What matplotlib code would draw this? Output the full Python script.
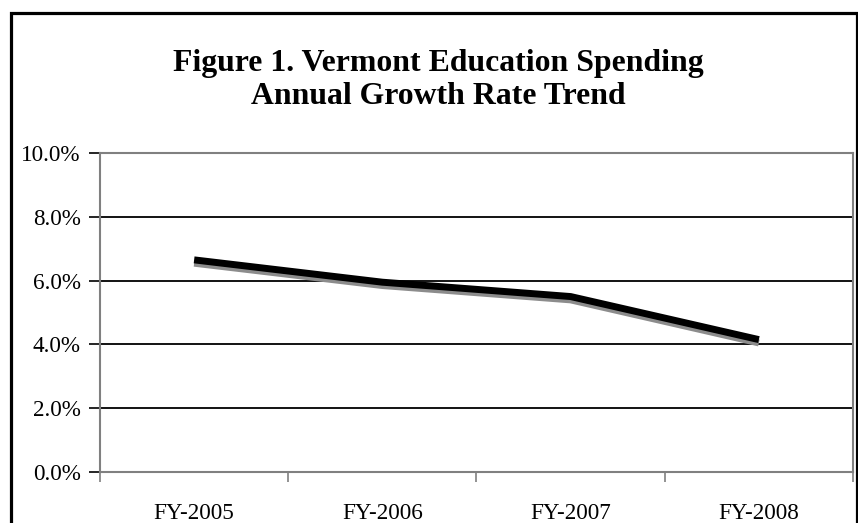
import numpy as np
import matplotlib
matplotlib.use('Agg')
import matplotlib.pyplot as plt
import matplotlib.patheffects as pe
from matplotlib.patches import Rectangle
from matplotlib.ticker import FuncFormatter, FixedLocator

# Data
years = ['FY-2005', 'FY-2006', 'FY-2007', 'FY-2008']
growth_rate = [6.65, 5.95, 5.5, 4.15]
y_ticks = [0, 2, 4, 6, 8, 10]

plt.rcParams['font.family'] = ['Liberation Serif', 'DejaVu Serif']

W, H = 858, 523
fig = plt.figure(figsize=(W / 100, H / 100), dpi=100)
ax = fig.add_axes([100 / W, (H - 472) / H, 753 / W, 319 / H])

x = np.arange(len(years))
ax.plot(x, growth_rate, color='black', linewidth=5, solid_capstyle='butt',
        path_effects=[pe.SimpleLineShadow(offset=(0, -2.4), shadow_color='#8c8c8c', alpha=1.0),
                      pe.Normal()], zorder=3)

# Excel style category axis: ticks between categories
ax.set_xlim(-0.5, len(years) - 0.5)
ax.set_xticks(x)
ax.set_xticklabels(years, fontsize=16.7)
ax.xaxis.set_minor_locator(FixedLocator(np.arange(-0.5, len(years), 1.0)))
ax.tick_params(axis='x', which='major', length=0, pad=22)
ax.tick_params(axis='x', which='minor', length=7, width=1.2, color='#808080', direction='out')

ax.set_ylim(0, 10)
ax.set_yticks(y_ticks)
ax.yaxis.set_major_formatter(FuncFormatter(lambda v, p: f'{v:.1f}%'))
ax.tick_params(axis='y', length=8, width=1.2, color='black', direction='out', pad=6, labelsize=16.7)
ax.grid(axis='y', color='black', linewidth=1.3, zorder=1)

for side in ['left', 'right', 'top', 'bottom']:
    ax.spines[side].set_color('#808080')
    ax.spines[side].set_linewidth(1.5)

fig.text(438 / W, 1 - 80 / H, 'Figure 1. Vermont Education Spending\nAnnual Growth Rate Trend',
         ha='center', va='center', fontsize=22.9, fontweight='bold', linespacing=1.2)

# Outer chart border (bottom edge is cut off in the original)
fig.patches.append(Rectangle((10.5 / W, -0.05), (856.5 - 10.5) / W, 1.05 - 13 / H,
                             transform=fig.transFigure, fill=False,
                             edgecolor='black', linewidth=2.3))

fig.savefig('out.png', dpi=100)
